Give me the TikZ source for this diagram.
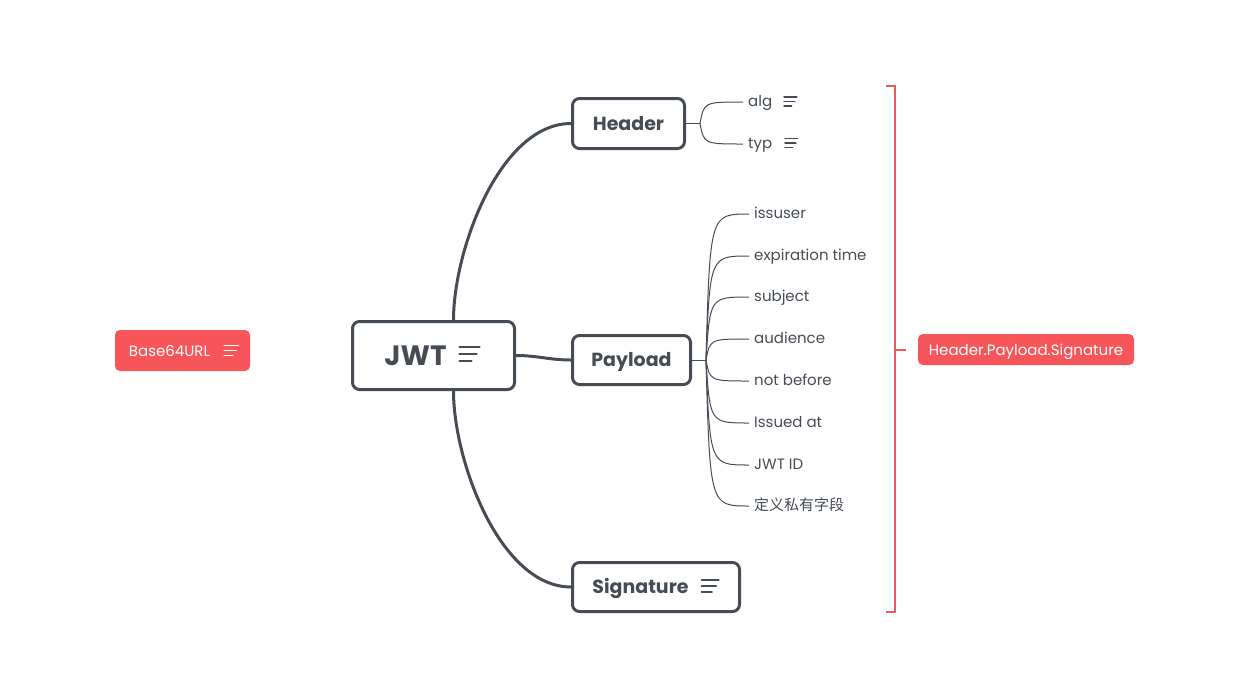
\documentclass[tikz,border=0pt]{standalone}
\usepackage{fontspec}
\setmainfont{Poppins}
\newfontfamily\cjk{Noto Sans CJK SC}
\usetikzlibrary{calc}
\definecolor{ink}{RGB}{69,76,84}
\definecolor{jwtred}{RGB}{246,85,89}
\tikzset{
  topic/.style={draw=ink, line width=3pt, rounded corners=7pt, text=ink, inner sep=0pt,
    font=\fontsize{19}{23}\selectfont\bfseries, text height=13pt, text depth=0pt},
  leaf/.style={anchor=west, inner xsep=5pt, inner ysep=2pt, text=ink,
    font=\fontsize{15}{18}\selectfont, text height=8pt, text depth=0pt},
  tag/.style={fill=jwtred, rounded corners=5pt, text=white, inner sep=0pt,
    font=\fontsize{15}{18}\selectfont, text height=11pt, text depth=0pt},
  branch/.style={draw=ink, line width=3pt},
  twig/.style={draw=ink, line width=1pt},
  pics/menu/.style={code={
    \draw[line width=#1, line cap=round] (0,-1) -- (2.86,-1) (0,0) -- (2.43,0) (0,1) -- (1.71,1);}}
}
\begin{document}
\begin{tikzpicture}[x=1pt, y=-1pt]
  \useasboundingbox (0,0) rectangle (1240,694);
  % topics
  \node[topic, minimum width=162, minimum height=68, text height=19pt, font=\fontsize{28}{34}\selectfont\bfseries] (jwt) at (433.5,355.5) {JWT\kern36pt};
  \node[topic, minimum width=112, minimum height=50] (header) at (628.5,123.5) {Header};
  \node[topic, minimum width=118, minimum height=49] (payload) at (631.5,360) {Payload};
  \node[topic, minimum width=167, minimum height=49] (signature) at (656,587) {Signature\kern31pt};
  \pic[scale=7, color=ink] at ($(jwt.east)+(-56.5,-1.5)$) {menu=2.5pt};
  \pic[scale=6, color=ink] at ($(signature.east)+(-39.5,-1)$) {menu=2pt};
  % main branches
  \coordinate (jtop) at ($(jwt.north west)+(102.5,0)$);
  \coordinate (jbot) at ($(jwt.south west)+(102.5,0)$);
  \draw[branch] (jtop) .. controls ($(jtop)+(0,-70)$) and ($(header.west)+(-71,0)$) .. (header.west);
  \draw[branch] (jbot) .. controls ($(jbot)+(0,70)$) and ($(signature.west)+(-71,0)$) .. (signature.west);
  \draw[branch] (jwt.east) to[out=0, in=180] (payload.west);
  % header fields
  \coordinate (hj) at (700,123.5);
  \node[leaf] (alg) at (743,102) {alg};
  \node[leaf] (typ) at (743,144) {typ};
  \pic[scale=4.5, color=ink] at ($(alg.west)+(41,-0.5)$) {menu=1.4pt};
  \pic[scale=4.5, color=ink] at ($(typ.west)+(42,-1)$) {menu=1.4pt};
  \draw[twig] (header.east) -- (hj);
  \foreach \f in {alg,typ}
    \draw[twig] (hj) .. controls ($(hj |- \f.west)+(4,0)$) .. (\f.west);
  % payload fields
  \coordinate (pj) at (706,360);
  \node[leaf] (iss) at (749,214) {issuser};
  \node[leaf] (exp) at (749,256) {expiration time};
  \node[leaf] (sub) at (749,297) {subject};
  \node[leaf] (aud) at (749,339) {audience};
  \node[leaf] (nbf) at (749,381) {not before};
  \node[leaf] (iat) at (749,423) {Issued at};
  \node[leaf] (jti) at (749,465) {JWT ID};
  \node[leaf] (own) at (749,506) {\cjk 定义私有字段};
  \draw[twig] (payload.east) -- (pj);
  \foreach \f in {iss,exp,sub,aud,nbf,iat,jti,own}
    \draw[twig] (pj) .. controls ($(pj |- \f.west)+(4,0)$) .. (\f.west);
  % notes
  \node[tag, minimum width=135, minimum height=41] (b64) at (182.5,350.5) {Base64URL\kern26pt};
  \pic[scale=5, color=white] at ($(b64.east)+(-26,0)$) {menu=1.5pt};
  \node[tag, minimum width=216, minimum height=31] (hps) at (1026,349.5) {Header.Payload.Signature};
  \coordinate (brtop) at (886,86);
  \coordinate (brbot) at (886,612);
  \coordinate (brmid) at (895,350);
  \draw[jwtred, line width=1.5pt] (brtop) -- ++(9,0) |- (brbot);
  \draw[jwtred, line width=1.5pt] (brmid) -- ++(11,0);
\end{tikzpicture}
\end{document}
